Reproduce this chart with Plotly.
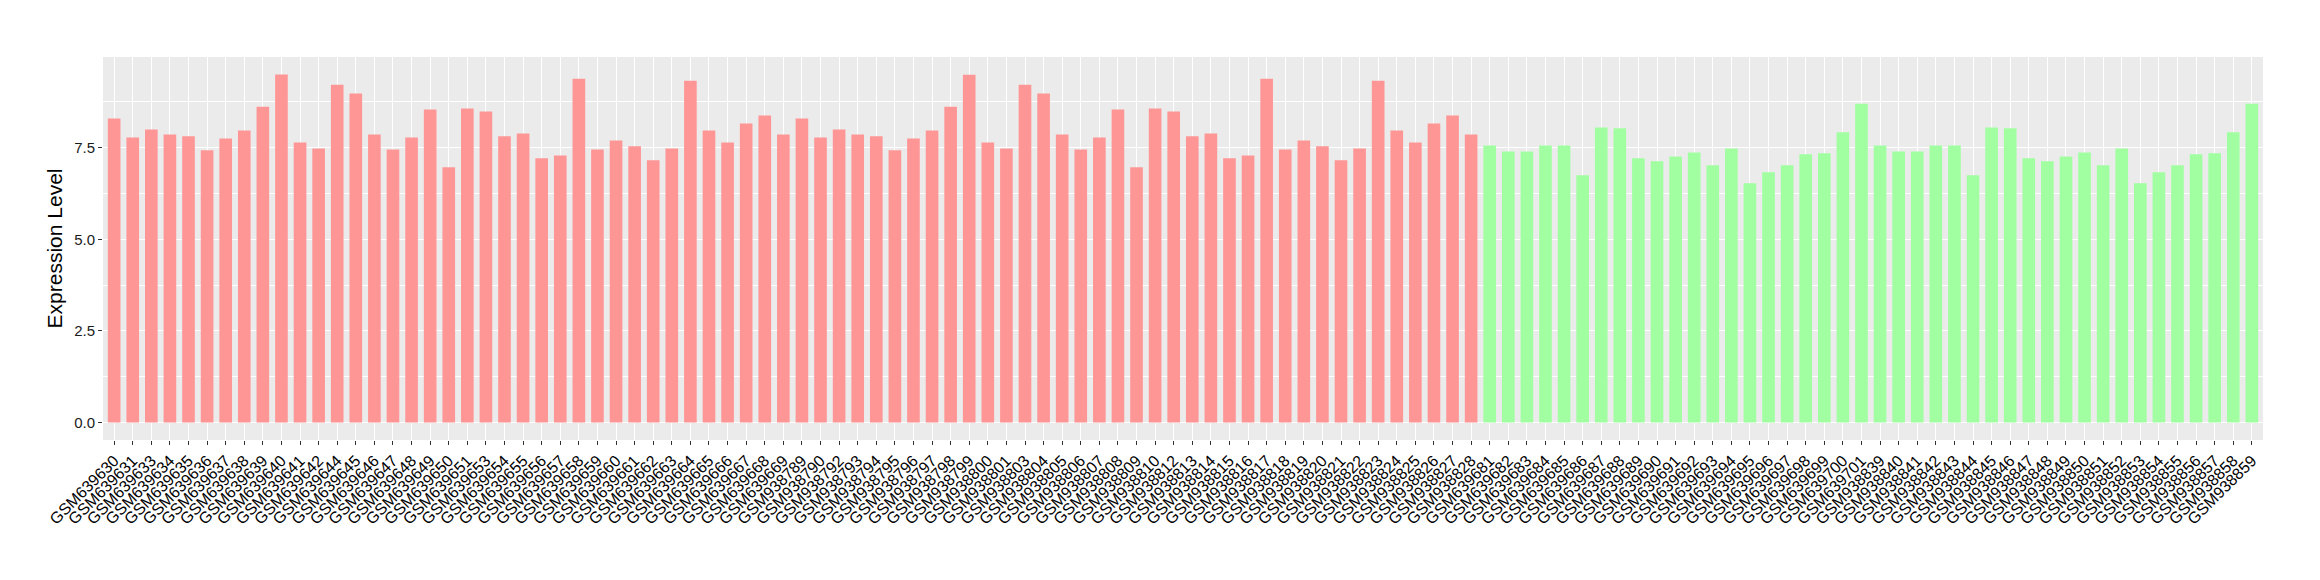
import plotly.graph_objects as go

samples_red_a = ["GSM6396%02d" % n for n in [30, 31, 33, 34, 35, 36, 37, 38, 39, 40, 41, 42, 44, 45, 46, 47, 48, 49, 50, 51,
                                           53, 54, 55, 56, 57, 58, 59, 60, 61, 62, 63, 64, 65, 66, 67, 68, 69]]
samples_red_b = ["GSM938%03d" % n for n in [789, 790, 792, 793, 794, 795, 796, 797, 798, 799, 800, 801, 803, 804, 805,
                                           806, 807, 808, 809, 810, 812, 813, 814, 815, 816, 817, 818, 819, 820, 821,
                                           822, 823, 824, 825, 826, 827, 828]]
samples_green_a = ["GSM639%03d" % n for n in range(681, 702)]
samples_green_b = ["GSM938%03d" % n for n in range(839, 860)]

values_red_a = [8.30, 7.78, 8.00, 7.86, 7.81, 7.43, 7.75, 7.97, 8.62, 9.50, 7.64, 7.48, 9.22, 8.98, 7.86, 7.45,
                7.78, 8.54, 6.97, 8.57, 8.49, 7.81, 7.89, 7.21, 7.29, 9.38, 7.45, 7.70, 7.54, 7.16, 7.48, 9.33,
                7.97, 7.64, 8.16, 8.38, 7.86]
values_red_b = [8.30, 7.78, 8.00, 7.86, 7.81, 7.43, 7.75, 7.97, 8.62, 9.49, 7.64, 7.48, 9.22, 8.98, 7.86, 7.45,
                7.78, 8.54, 6.97, 8.57, 8.49, 7.81, 7.89, 7.21, 7.29, 9.38, 7.45, 7.70, 7.54, 7.16, 7.48, 9.33,
                7.97, 7.64, 8.16, 8.38, 7.86]
values_green_a = [7.56, 7.40, 7.40, 7.56, 7.56, 6.75, 8.05, 8.03, 7.21, 7.13, 7.26, 7.37, 7.02, 7.48, 6.53,
                  6.83, 7.02, 7.32, 7.35, 7.92, 8.70]
values_green_b = [7.56, 7.40, 7.40, 7.56, 7.56, 6.75, 8.05, 8.03, 7.21, 7.13, 7.26, 7.37, 7.02, 7.48, 6.53,
                  6.83, 7.02, 7.32, 7.35, 7.92, 8.70]

samples = samples_red_a + samples_red_b + samples_green_a + samples_green_b
values = values_red_a + values_red_b + values_green_a + values_green_b
groups = ["red"] * (len(samples_red_a) + len(samples_red_b)) + ["green"] * (len(samples_green_a) + len(samples_green_b))
group_colors = {"red": "rgb(255,150,150)", "green": "rgb(161,255,161)"}

y_ticks = [0, 2.5, 5.0, 7.5]
y_ticktext = ["0.0", "2.5", "5.0", "7.5"]

fig = go.Figure(go.Bar(
    x=samples, y=values,
    marker=dict(color=[group_colors[g] for g in groups], line=dict(width=0)),
    width=0.68, showlegend=False,
))

n = len(samples)
ymax = max(values)
fig.update_layout(
    width=2320, height=580,
    margin=dict(l=103, r=57, t=57, b=140, autoexpand=False),
    paper_bgcolor="white", plot_bgcolor="#EBEBEB",
    font=dict(family="Liberation Sans, Arial, sans-serif", color="black"),
)
fig.update_xaxes(
    type="category", range=[-0.6, n - 0.4], automargin=False,
    tickmode="array", tickvals=samples, ticktext=samples,
    tickangle=-45, tickfont=dict(size=16, color="black"),
    ticks="outside", ticklen=4, tickcolor="#333333", tickwidth=1,
    showgrid=True, gridcolor="white", gridwidth=1.1,
    zeroline=False, showline=False,
)
fig.update_yaxes(
    range=[-0.05 * ymax, ymax * 1.05], automargin=False,
    tickmode="array", tickvals=y_ticks, ticktext=y_ticktext,
    tickfont=dict(size=15, color="#1a1a1a"),
    ticks="outside", ticklen=4, tickcolor="#333333", tickwidth=1,
    showgrid=True, gridcolor="white", gridwidth=1.1,
    minor=dict(tickvals=[1.25, 3.75, 6.25, 8.75], showgrid=True, gridcolor="white", gridwidth=0.6, ticks=""),
    zeroline=False, showline=False,
    title=dict(text="Expression Level", font=dict(size=21, color="black"), standoff=5),
)

fig.write_html("out.html", config={"displayModeBar": False},
               post_script="document.body.style.margin='0';document.body.style.padding='0';")
